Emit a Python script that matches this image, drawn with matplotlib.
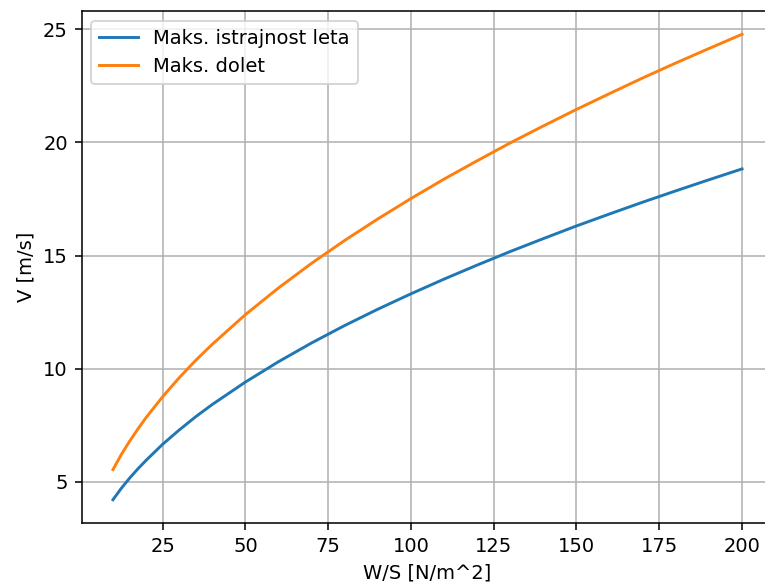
import matplotlib
matplotlib.use("Agg")
import matplotlib.pyplot as plt

ws = [10, 12.5, 15, 17.5, 20, 25, 30, 35, 40, 50, 60, 70, 80, 90, 100,
      110, 120, 130, 140, 150, 160, 170, 180, 190, 200]
v_endurance = [4.21, 4.71, 5.16, 5.57, 5.95, 6.66, 7.29, 7.88, 8.42, 9.41,
               10.31, 11.14, 11.91, 12.63, 13.31, 13.96, 14.58, 15.18, 15.75,
               16.31, 16.84, 17.36, 17.86, 18.35, 18.83]
v_range = [5.54, 6.20, 6.79, 7.33, 7.84, 8.76, 9.60, 10.37, 11.08, 12.39,
           13.57, 14.66, 15.67, 16.62, 17.52, 18.38, 19.19, 19.98, 20.73,
           21.46, 22.16, 22.85, 23.51, 24.15, 24.78]
labels = ["Maks. istrajnost leta", "Maks. dolet"]

fig = plt.figure(figsize=(765 / 140, 585 / 140), dpi=140)
ax = fig.add_axes([81.5 / 765, 62 / 585, 692 / 765, 512 / 585])
ax.plot(ws, v_endurance, label=labels[0])
ax.plot(ws, v_range, label=labels[1])
ax.set_xlabel("W/S [N/m^2]")
ax.set_ylabel("V [m/s]")
ax.set_xticks([25, 50, 75, 100, 125, 150, 175, 200])
ax.grid(True)
ax.spines["right"].set_visible(False)
ax.legend(loc="upper left")
fig.savefig("out.png", dpi=140)
